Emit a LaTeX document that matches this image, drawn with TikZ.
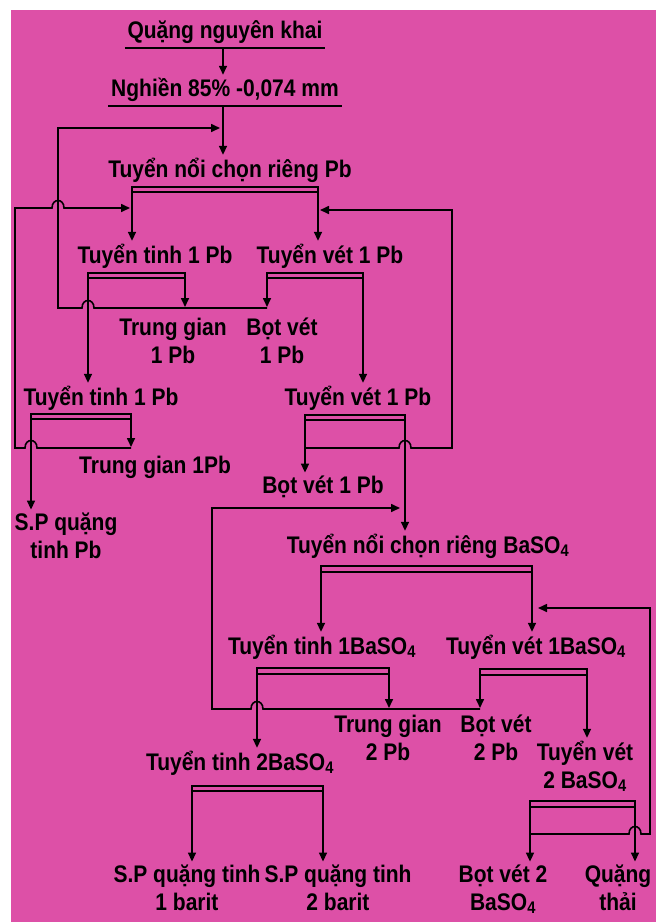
\documentclass[tikz,border=0pt]{standalone}
\usepackage{fontspec}
\newfontfamily\flowfont{Liberation Sans}[FakeStretch=0.875]
\usetikzlibrary{arrows.meta}
\definecolor{sheet}{RGB}{221,80,167}
\newcommand{\baso}{BaSO\textsubscript{4}}
% little jumps where two lines cross
\newcommand{\hop}[2]{-- (#1-6,#2) .. controls (#1-6,#2-10) and (#1+6,#2-10) .. (#1+6,#2)}
\newcommand{\hopback}[2]{-- (#1+6,#2) .. controls (#1+6,#2-10) and (#1-6,#2-10) .. (#1-6,#2)}

\begin{document}
\begin{tikzpicture}[x=1pt,y=-1pt,line width=1.6pt,
  lbl/.style={font=\flowfont\bfseries\fontsize{24}{28}\selectfont,inner sep=2pt,anchor=base,align=center},
  flow/.style={-{Triangle[width=8pt,length=9pt]}},
  split/.style={{Triangle[width=8pt,length=9pt]}-{Triangle[width=8pt,length=9pt]}}]
\useasboundingbox (0,0) rectangle (656,922);
\fill[sheet] (11,10) rectangle (656,922);

% Pb circuit (two-line labels sit on their last line)
\node[lbl] (quang) at (225,38) {Quặng nguyên khai};
\node[lbl] (nghien) at (225,96) {Nghiền 85\% -0,074 mm};
\node[lbl] (tnpb) at (230,177) {Tuyển nổi chọn riêng Pb};
\node[lbl] (tt1) at (155,263) {Tuyển tinh 1 Pb};
\node[lbl] (tv1) at (330,263) {Tuyển vét 1 Pb};
\node[lbl] (tg1) at (173,363) {Trung gian\\1 Pb};
\node[lbl] (bv1) at (282,363) {Bọt vét\\1 Pb};
\node[lbl] (tt2) at (101,405) {Tuyển tinh 1 Pb};
\node[lbl] (tv2) at (358,405) {Tuyển vét 1 Pb};
\node[lbl] (tg2) at (155,473) {Trung gian 1Pb};
\node[lbl] (bv2) at (323,493) {Bọt vét 1 Pb};
\node[lbl] (sppb) at (66,558) {S.P quặng\\tinh Pb};

% BaSO4 circuit
\node[lbl] (tnba) at (428,553) {Tuyển nổi chọn riêng \baso};
\node[lbl] (ttba1) at (322,654) {Tuyển tinh 1\baso};
\node[lbl] (tvba1) at (536,654) {Tuyển vét 1\baso};
\node[lbl] (tgba) at (388,760) {Trung gian\\2 Pb};
\node[lbl] (bvba) at (496,760) {Bọt vét\\2 Pb};
\node[lbl] (tvba2) at (585,788) {Tuyển vét\\2 \baso};
\node[lbl] (ttba2) at (240,770) {Tuyển tinh 2\baso};
\node[lbl] (sp1) at (187,910) {S.P quặng tinh\\1 barit};
\node[lbl] (sp2) at (338,910) {S.P quặng tinh\\2 barit};
\node[lbl] (bvba2) at (503,910) {Bọt vét 2\\\baso};
\node[lbl] (thai) at (618,910) {Quặng\\thải};

\draw ([yshift=-10pt]quang.base west) -- ([yshift=-10pt]quang.base east);
\draw ([yshift=-10pt]nghien.base west) -- ([yshift=-10pt]nghien.base east);
\draw[flow] (223,48) -- (223,0 |- nghien.north);
\draw[flow] (223,106) -- (223,0 |- tnpb.north);

\draw[split] (132,0 |- tt1.north) -- (132,187) -- (318,187) -- (318,0 |- tv1.north);
\draw (132,192) -- (318,192);
\draw[split] (88,0 |- tt2.north) -- (88,273) -- (185,273) -- (185,307);
\draw (88,278) -- (185,278);
\draw[split] (267,307) -- (267,273) -- (363,273) -- (363,0 |- tv2.north);
\draw (267,278) -- (363,278);
\draw[split] (31,0 |- sppb.north) -- (31,414) -- (131,414) -- (131,447);
\draw (31,419) -- (131,419);
\draw[split] (305,0 |- bv2.north) -- (305,415) -- (405,415) -- (405,0 |- tnba.north);
\draw (305,420) -- (405,420);

\draw[flow] (267,308) \hopback{88}{308} -- (58,308) -- (58,128) -- (220,128);
\draw[flow] (131,448) \hopback{31}{448} -- (15,448) -- (15,208) \hop{58}{208} -- (130,208);
\draw[flow] (305,448) \hop{405}{448} -- (452,448) -- (452,210) -- (320,210);

\draw[split] (321,0 |- ttba1.north) -- (321,566) -- (532,566) -- (532,0 |- tvba1.north);
\draw (321,572) -- (532,572);
\draw[split] (257,0 |- ttba2.north) -- (257,668) -- (389,668) -- (389,708);
\draw (257,674) -- (389,674);
\draw[split] (480,708) -- (480,669) -- (587,669) -- (587,0 |- tvba2.north);
\draw (480,675) -- (587,675);
\draw[split] (192,0 |- sp1.north) -- (192,786) -- (323,786) -- (323,0 |- sp2.north);
\draw (192,791) -- (323,791);
\draw[split] (530,0 |- bvba2.north) -- (530,801) -- (635,801) -- (635,0 |- thai.north);
\draw (530,807) -- (635,807);

\draw[flow] (480,709) \hopback{257}{709} -- (212,709) -- (212,508) -- (400,508);
\draw[flow] (530,834) \hop{635}{834} -- (650,834) -- (650,608) -- (538,608);
\end{tikzpicture}
\end{document}
